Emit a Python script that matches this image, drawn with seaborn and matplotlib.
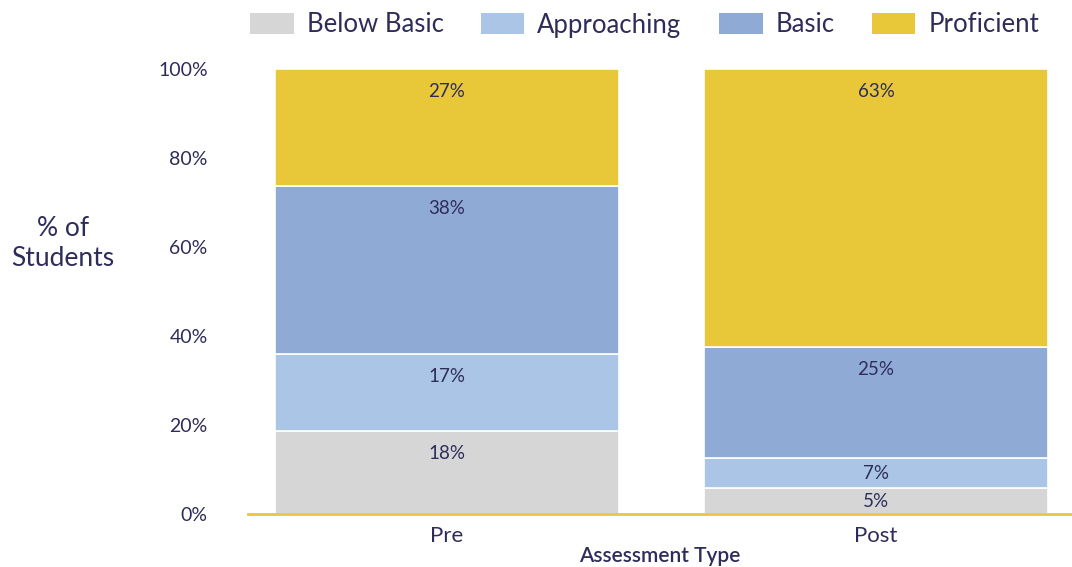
import matplotlib
matplotlib.use("Agg")
import matplotlib.pyplot as plt
import seaborn as sns
import pandas as pd
import numpy as np
from matplotlib.patches import Patch

categories = ["Pre", "Post"]
levels = ["Below Basic", "Approaching", "Basic", "Proficient"]
below_basic = [18.7, 5.8]
approaching = [17.3, 6.8]
basic = [37.7, 24.9]
proficient = [26.3, 62.5]
labels_below = ["18%", "5%"]
labels_appr = ["17%", "7%"]
labels_basic = ["38%", "25%"]
labels_prof = ["27%", "63%"]
colors = ["#d6d6d6", "#abc5e6", "#90aad6", "#e8c838"]
text_color = "#2e2d5a"

sns.set_theme(style="white")
plt.rcParams["font.family"] = ["Lato", "DejaVu Sans"]

fig = plt.figure(figsize=(10.72, 5.67), dpi=100)
ax = fig.add_axes([248/1072, 1-514/567, 1-248/1072, (514-69)/567])

series = [below_basic, approaching, basic, proficient]
labels = [labels_below, labels_appr, labels_basic, labels_prof]
bottom = np.zeros(len(categories))
for vals, labs, col, name in zip(series, labels, colors, levels):
    df = pd.DataFrame({"cat": categories, "val": vals})
    sns.barplot(data=df, x="cat", y="val", color=col, bottom=bottom, width=0.8,
                edgecolor="white", linewidth=1.2, ax=ax, saturation=1)
    for i, (v, lab) in enumerate(zip(vals, labs)):
        top = bottom[i] + v
        ax.text(i, top - min(v * 0.5, 5.0), lab, ha="center", va="center",
                fontsize=13.5, color=text_color)
    bottom = bottom + np.array(vals)

ax.set_xlim(-0.464, 1.457)
ax.set_ylim(0, 100)
ax.set_yticks([0, 20, 40, 60, 80, 100])
ax.set_yticklabels([f"{t}%" for t in [0, 20, 40, 60, 80, 100]], fontsize=14, color=text_color)
ax.tick_params(axis="y", length=0, pad=29)
ax.tick_params(axis="x", length=0, pad=9)
for t in ax.get_xticklabels():
    t.set_fontsize(16)
    t.set_color(text_color)
ax.set_xlabel("Assessment Type", fontsize=15, color=text_color, labelpad=0, fontweight="semibold")
ax.set_ylabel("")
fig.text(63/1072, 1-244/567, "% of\nStudents", ha="center", va="center",
         fontsize=19, color=text_color, linespacing=1.25)

for s in ["top", "right", "left"]:
    ax.spines[s].set_visible(False)
ax.spines["bottom"].set_color("#e8c838")
ax.spines["bottom"].set_linewidth(2)

handles = [Patch(facecolor=c, edgecolor="none", label=l) for c, l in zip(colors, levels)]
leg = fig.legend(handles=handles, loc="center left", bbox_to_anchor=(250/1072, 1-25/567),
                 ncol=4, frameon=False, fontsize=18.5, handlelength=1.7, handleheight=0.85,
                 handletextpad=0.5, columnspacing=1.45, labelcolor=text_color, borderaxespad=0,
                 borderpad=0)

fig.savefig("out.png", dpi=100)
